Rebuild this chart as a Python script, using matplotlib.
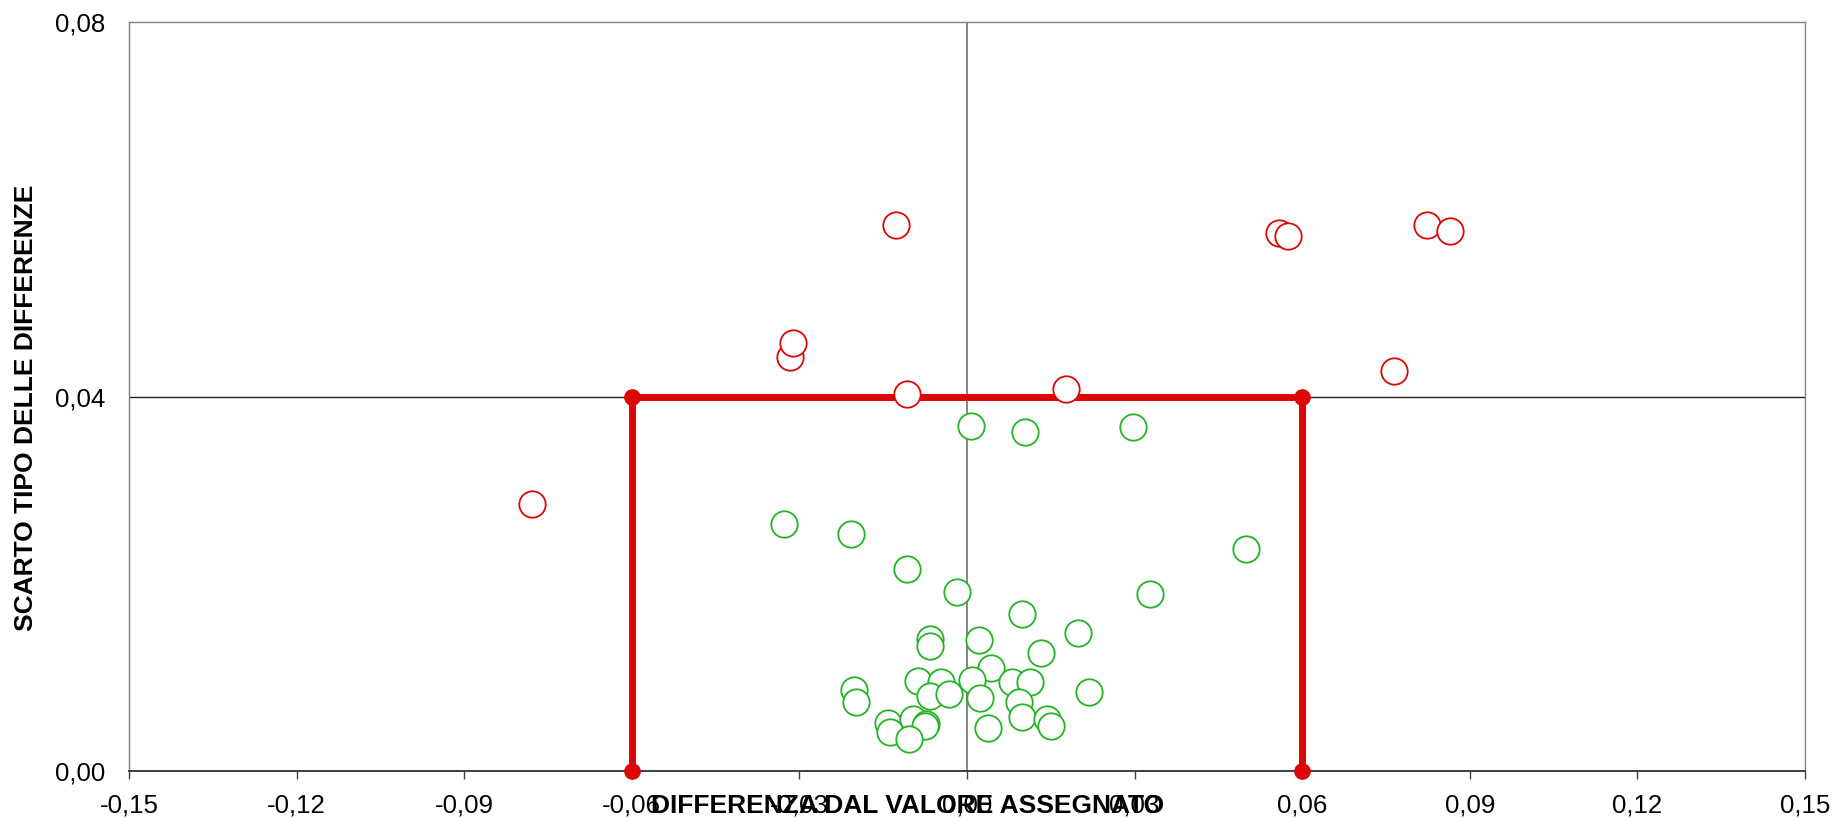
import numpy as np
import matplotlib
matplotlib.use('Agg')
import matplotlib.pyplot as plt
from matplotlib.ticker import FuncFormatter

plt.rcParams['font.family'] = ['Liberation Sans', 'DejaVu Sans']

# laboratori fuori dai limiti (rossi)
x_out = [-0.0778, -0.0317, -0.0312, -0.0127, -0.0107, 0.0178,
         0.0559, 0.0574, 0.0764, 0.0824, 0.0864]
y_out = [0.0286, 0.0442, 0.0457, 0.0584, 0.0403, 0.0408,
         0.0575, 0.0572, 0.0428, 0.0583, 0.0577]

# laboratori entro i limiti (verdi)
x_in = [-0.0327, -0.0207, -0.0107, 0.0008, 0.0103, 0.0298, 0.0499, -0.0017,
        0.0328, 0.0098, 0.0198, -0.0067, -0.0067, 0.0022, 0.0133, 0.0043,
        -0.0202, -0.0198, -0.0088, -0.0047, 0.0009, -0.0067, -0.0033, 0.0023,
        0.0080, 0.0113, 0.0094, 0.0218, -0.0142, -0.0137, -0.0097, -0.0073,
        -0.0076, -0.0103, 0.0038, 0.0098, 0.0143, 0.0151]
y_in = [0.0264, 0.0253, 0.0216, 0.0369, 0.0362, 0.0368, 0.0237, 0.0192,
        0.0189, 0.0168, 0.0148, 0.0141, 0.0134, 0.0140, 0.0126, 0.0110,
        0.0087, 0.0074, 0.0096, 0.0095, 0.0098, 0.0080, 0.0083, 0.0078,
        0.0095, 0.0095, 0.0074, 0.0085, 0.0052, 0.0042, 0.0056, 0.0051,
        0.0048, 0.0034, 0.0046, 0.0058, 0.0056, 0.0048]

# box dei limiti
box_x = [-0.06, -0.06, 0.06, 0.06]
box_y = [0.0, 0.04, 0.04, 0.0]

xticks = np.arange(-0.15, 0.1501, 0.03)
yticks = [0.0, 0.04, 0.08]

RED = '#DD0606'
GREEN = '#22B422'

fig = plt.figure(figsize=(18.38, 8.18), dpi=100)
ax = fig.add_axes([0.0702, 0.0571, 0.9118, 0.9156])

ax.set_xlim(-0.15, 0.15)
ax.set_ylim(0, 0.08)

ax.axvline(0, color='#707070', lw=1.2, zorder=1)
ax.axhline(0.04, color='#202020', lw=1.0, zorder=1)

ax.plot(box_x, box_y, '-o', color=RED, lw=5, markersize=11, zorder=3, clip_on=False)

ax.plot(x_in, y_in, 'o', ls='none', markersize=19, mfc='white', mec=GREEN, mew=1.3, zorder=4)
ax.plot(x_out, y_out, 'o', ls='none', markersize=19, mfc='white', mec=RED, mew=1.3, zorder=4)

fmt = FuncFormatter(lambda v, p: ('%.2f' % v).replace('.', ','))
ax.set_xticks(xticks)
ax.set_yticks(yticks)
ax.xaxis.set_major_formatter(fmt)
ax.yaxis.set_major_formatter(fmt)
ax.tick_params(axis='x', direction='out', length=6, width=1, pad=10, labelsize=18.6,
               color='#404040')
ax.tick_params(axis='y', length=0, pad=17, labelsize=18.6)

for s in ['left', 'top', 'right']:
    ax.spines[s].set_color('#808080')
    ax.spines[s].set_linewidth(1.0)
ax.spines['bottom'].set_color('#303030')
ax.spines['bottom'].set_linewidth(1.3)

# nel riferimento il titolo dell'asse x si sovrappone alle etichette
fig.text(0.494, 0.0147, 'DIFFERENZA DAL VALORE ASSEGNATO', ha='center', va='center',
         fontsize=19, fontweight='bold')
fig.text(0.0141, 0.501, 'SCARTO TIPO DELLE DIFFERENZE', ha='center', va='center',
         rotation=90, fontsize=19, fontweight='bold')

fig.savefig('out.png', dpi=100)
